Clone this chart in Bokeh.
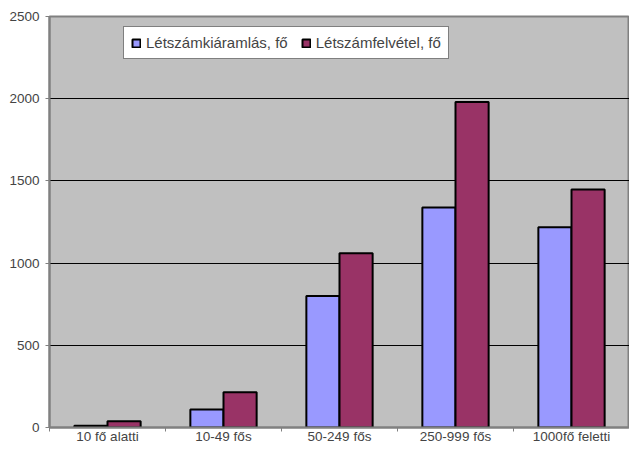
from bokeh.plotting import figure
from bokeh.models import ColumnDataSource, FixedTicker, Legend, LegendItem, Range1d
from bokeh.transform import dodge
from bokeh.embed import file_html
from bokeh.resources import INLINE

categories = ["10 fő alatti", "10-49 fős", "50-249 fős", "250-999 fős", "1000fő feletti"]
kiaramlas = [10, 110, 800, 1338, 1218]
felvetel = [38, 215, 1060, 1980, 1448]
series_names = ["Létszámkiáramlás, fő", "Létszámfelvétel, fő"]
y_ticks = [0, 500, 1000, 1500, 2000, 2500]

centers = [i + 0.5 for i in range(len(categories))]
src = ColumnDataSource(dict(x=centers, a=kiaramlas, b=felvetel))

FONT = "Liberation Sans"
p = figure(width=629, height=446, output_backend="svg", toolbar_location=None,
           x_range=Range1d(0, len(categories)), y_range=Range1d(0, 2500),
           min_border_left=49, min_border_right=0, min_border_top=16, min_border_bottom=19)
p.background_fill_color = "#C0C0C0"
p.border_fill_color = "white"
p.outline_line_color = "#808080"
p.outline_line_width = 2

w = 1 / 3.5
r1 = p.vbar(x=dodge("x", -w / 2, range=p.x_range), top="a", width=w, source=src,
            fill_color="#9999FF", line_color="black", line_width=2)
r2 = p.vbar(x=dodge("x", w / 2, range=p.x_range), top="b", width=w, source=src,
            fill_color="#993366", line_color="black", line_width=2)

p.xgrid.grid_line_color = None
p.ygrid.grid_line_color = "black"
p.ygrid.grid_line_width = 1
p.yaxis.ticker = FixedTicker(ticks=y_ticks)
p.yaxis.minor_tick_line_color = None
p.yaxis.major_tick_in = 0
p.yaxis.major_tick_out = 4
p.yaxis.major_tick_line_color = "#808080"
p.yaxis.axis_line_color = "#808080"
p.yaxis.axis_line_width = 2
p.yaxis.major_label_text_font = FONT
p.yaxis.major_label_text_font_size = "13.5px"
p.yaxis.major_label_standoff = 6

p.xaxis.ticker = FixedTicker(ticks=centers, minor_ticks=list(range(len(categories) + 1)))
p.xaxis.major_label_overrides = {c: lab for c, lab in zip(centers, categories)}
p.xaxis.major_tick_line_color = None
p.xaxis.major_tick_in = 0
p.xaxis.major_tick_out = 0
p.xaxis.minor_tick_in = 0
p.xaxis.minor_tick_out = 4
p.xaxis.minor_tick_line_color = "#808080"
p.xaxis.axis_line_color = "#808080"
p.xaxis.axis_line_width = 2
p.xaxis.major_label_text_font = FONT
p.xaxis.major_label_text_font_size = "13.5px"
p.xaxis.major_label_standoff = -3

legend = Legend(items=[LegendItem(label=series_names[0], renderers=[r1]),
                       LegendItem(label=series_names[1], renderers=[r2])],
                orientation="horizontal", location=(74, 368))
legend.background_fill_color = "white"
legend.background_fill_alpha = 1
legend.border_line_color = "black"
legend.border_line_width = 1
legend.label_text_font = FONT
legend.label_text_font_size = "15px"
legend.label_height = 17
legend.glyph_width = 10
legend.glyph_height = 10
legend.padding = 7
legend.spacing = 13
legend.label_standoff = 5
legend.margin = 0
p.add_layout(legend, "center")

open("out.html", "w").write(file_html(p, INLINE))
